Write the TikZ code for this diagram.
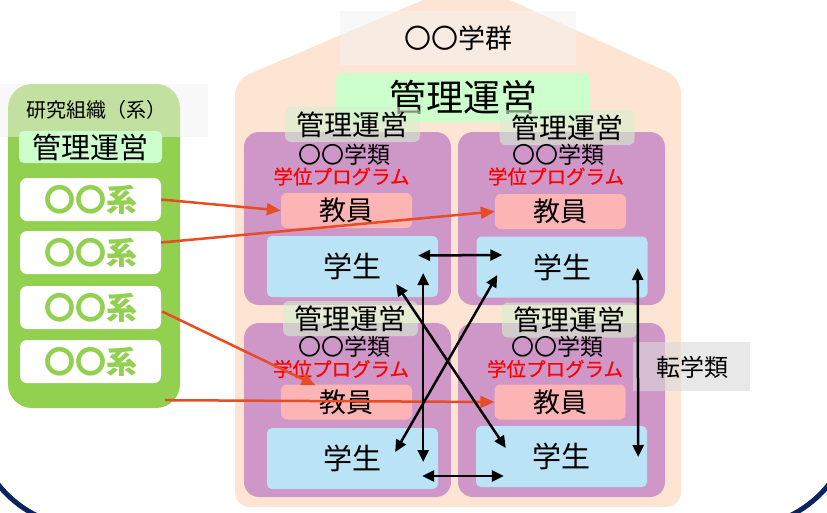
\documentclass[tikz,border=0pt]{standalone}
\usepackage{fontspec}
\setmainfont{Noto Sans CJK JP}
\newfontfamily\progfont{Noto Sans CJK JP}[FakeBold=0.6]
\usetikzlibrary{arrows.meta,calc}
\definecolor{navyc}{HTML}{0A2463}
\definecolor{panelg}{HTML}{92D050}
\definecolor{lightg}{HTML}{CCFFCC}
\definecolor{peach}{HTML}{FEE5D3}
\definecolor{purp}{HTML}{CF97C8}
\definecolor{pinkc}{HTML}{FDB4B4}
\definecolor{bluec}{HTML}{BAE3F6}
\definecolor{arrred}{HTML}{E84C22}
\definecolor{lblg}{HTML}{D5F0D0}
\tikzset{
  fs/.style={font=\fontsize{#1}{#1}\selectfont},
  grayveil/.style={draw=none,fill=#1,inner sep=0pt},
  kei/.style={draw=none,fill=white,rounded corners=7,minimum width=141,minimum height=43,inner sep=0pt,text=panelg,font=\fontsize{31}{31}\selectfont\bfseries},
  quad/.style={draw=none,fill=purp,rounded corners=15,minimum width=207,inner sep=0pt},
  mlabel/.style={draw=none,fill=lblg,fill opacity=0.6,text opacity=1,rounded corners=6,minimum width=135,minimum height=35,inner sep=0pt,font=\fontsize{28}{28}\selectfont},
  gakurui/.style={inner sep=0pt,font=\fontsize{23}{23}\selectfont},
  prog/.style={inner sep=0pt,text=red,font=\progfont\fontsize{19.5}{19.5}\selectfont},
  kyoin/.style={draw=none,fill=pinkc,rounded corners=6,minimum width=131,minimum height=35,inner sep=0pt,font=\fontsize{27}{27}\selectfont},
  gakusei/.style={draw=none,fill=bluec,rounded corners=5,minimum width=171,minimum height=61,inner sep=0pt,font=\fontsize{29}{29}\selectfont},
  redarrow/.style={draw=arrred,line width=2.5,-{Triangle[length=14,width=12]}},
  blkarrow/.style={draw=black,line width=2.5,{Triangle[length=12,width=11]}-{Triangle[length=12,width=11]}},
}
\begin{document}
\begin{tikzpicture}[x=1pt,y=-1pt]
\useasboundingbox (0,0) rectangle (827,512);
\begin{scope}
  \clip (0,0) rectangle (827,512);
  % navy frame
  \draw[navyc,line width=5,rounded corners=112] (-26,-300) rectangle (853,527);
  % house
  \fill[peach,rounded corners=15] (235,507) -- (235,80) -- (468,-19) -- (681,78) -- (681,507) -- cycle;
\end{scope}

% left green panel
\node[draw=none,fill=panelg,rounded corners=24,minimum width=172,minimum height=324,inner sep=0pt] (panel) at (94,246) {};
\node[grayveil=gray!10,fill opacity=0.5,minimum width=208,minimum height=53] (kenveil) at (104,110.5) {};
\node[inner sep=0pt,fs=20] (kenlbl) at (96,110) {研究組織（系）};
\node[draw=none,fill=lightg,rounded corners=5,minimum width=143,minimum height=32,inner sep=0pt,fs=29] (kmgmt) at (90.5,147) {管理運営};
\node[kei] (kei1) at (90.5,199.5) {〇〇系};
\node[kei] (kei2) at (90.5,252.5) {〇〇系};
\node[kei] (kei3) at (90.5,307.5) {〇〇系};
\node[kei] (kei4) at (90.5,361.5) {〇〇系};

% house labels
\node[grayveil=gray!10,fill opacity=0.5,minimum width=236,minimum height=54] (gunveil) at (458,38) {};
\node[inner sep=0pt,fs=27] (gun) at (458,38) {〇〇学群};
\node[draw=none,fill=lightg,rounded corners=6,minimum width=254,minimum height=49,inner sep=0pt,fs=37] (bigmgmt) at (463,97.5) {管理運営};

% quadrants
\node[quad,minimum height=173] (qTL) at (347.5,218.5) {};
\node[quad,minimum height=173] (qTR) at (561.5,218.5) {};
\node[quad,minimum height=174] (qBL) at (347.5,410) {};
\node[quad,minimum height=174] (qBR) at (561.5,410) {};

\node[mlabel] (mTL) at (352.5,124.5) {管理運営};
\node[mlabel] (mTR) at (567,127.5) {管理運営};
\node[mlabel] (mBL) at (350.5,318.5) {管理運営};
\node[mlabel] (mBR) at (569.5,320) {管理運営};

\node[gakurui] (rTL) at (344,155) {〇〇学類};
\node[gakurui] (rTR) at (558,155) {〇〇学類};
\node[gakurui] (rBL) at (344,347) {〇〇学類};
\node[gakurui] (rBR) at (557,347) {〇〇学類};

\node[prog] (pTL) at (341.5,176.5) {学位プログラム};
\node[prog] (pTR) at (556,176.5) {学位プログラム};
\node[prog] (pBL) at (341,369) {学位プログラム};
\node[prog] (pBR) at (555,369) {学位プログラム};

\node[kyoin] (kTL) at (346.5,210.5) {教員};
\node[kyoin] (kTR) at (560.5,211.5) {教員};
\node[kyoin] (kBL) at (346.5,402) {教員};
\node[kyoin] (kBR) at (560,402) {教員};

\node[gakusei] (gTL) at (352.5,266.5) {学生};
\node[gakusei] (gTR) at (562,267) {学生};
\node[gakusei] (gBL) at (352.5,458.5) {学生};
\node[gakusei] (gBR) at (561.5,456.5) {学生};

% transfer label
\node[grayveil=gray!30,fill opacity=0.6,minimum width=117,minimum height=49] (tenveil) at (691.5,366.5) {};
\node[inner sep=0pt,fs=24] (ten) at (692,367) {転学類};

% red arrows
\draw[redarrow] (kei1.east) -- (kTL.west);
\draw[redarrow] ($(kei2.east)+(0,-10)$) -- (kTR.west);
\draw[redarrow] ($(kei3.east)+(1,4)$) -- ($(kBL.north)+(-31,1)$);
\draw[redarrow] ($(panel.south east)+(-15,-8)$) -- (kBR.west);

% black arrows
\draw[blkarrow] ($(gTL.east)+(-20,-11)$) -- ($(gTR.west)+(26,-12)$);
\draw[blkarrow] ($(gBL.east)+(-16,17.5)$) -- ($(gBR.west)+(28,19.5)$);
\draw[blkarrow] ($(gTL.east)+(-15,6.5)$) -- ($(gBL.east)+(-15,3.5)$);
\draw[blkarrow] ($(gTL.east)+(-42,17.5)$) -- ($(gBR.west)+(30,-8.5)$);
\draw[blkarrow] ($(gBL.east)+(-43,-6.5)$) -- ($(gTR.west)+(21,8)$);
\draw[blkarrow] ($(gTR.east)+(-10,1)$) -- ($(gBR.east)+(-9,0.5)$);
\end{tikzpicture}
\end{document}
